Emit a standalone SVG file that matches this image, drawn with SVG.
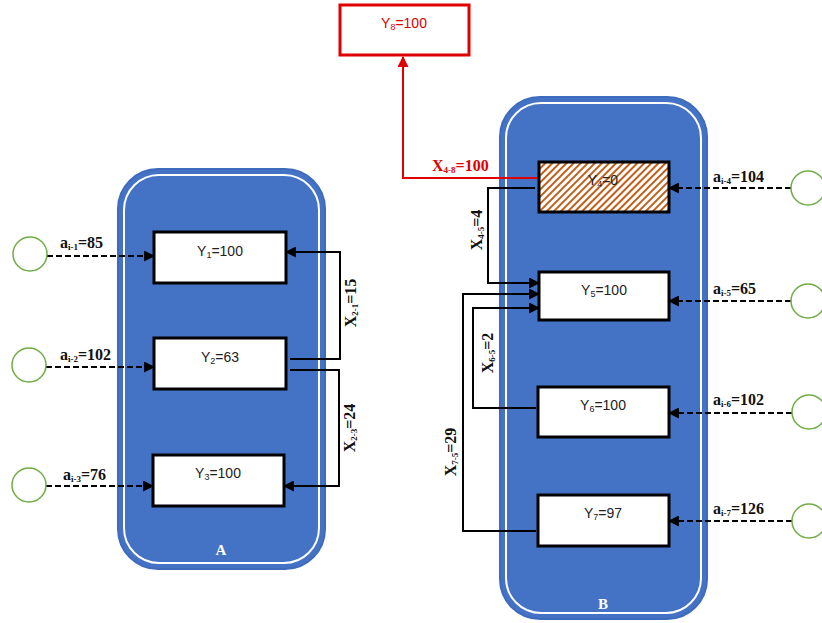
<svg xmlns="http://www.w3.org/2000/svg" width="822" height="623" viewBox="0 0 822 623">
<defs>
<style>
.cont{fill:#4472c4;stroke:#3f6bbd;stroke-width:2}
.inner{fill:none;stroke:#ffffff;stroke-width:2}
.box{fill:#ffffff;stroke:#000000;stroke-width:3}
.bt{font-family:"Liberation Sans","DejaVu Sans",sans-serif;font-size:14px;fill:#222;text-anchor:middle}
.lbl{font-family:"Liberation Serif","DejaVu Serif",serif;font-size:16px;font-weight:bold;fill:#111}
.sub{font-size:9px}
.src{fill:#ffffff;stroke:#70ad47;stroke-width:1.5}
.dash{fill:none;stroke:#000;stroke-width:2;stroke-dasharray:6,3}
.flow{fill:none;stroke:#000;stroke-width:2}
.red{fill:none;stroke:#e00000;stroke-width:2}
.ct{font-family:"Liberation Serif","DejaVu Serif",serif;font-size:15px;font-weight:bold;fill:#ffffff;text-anchor:middle}
</style>
<marker id="ah" viewBox="0 0 10 10" refX="9" refY="5" markerWidth="5.5" markerHeight="5.5" orient="auto" markerUnits="strokeWidth">
<path d="M0,0 L10,5 L0,10 z" fill="#000"/>
</marker>
<marker id="ahr" viewBox="0 0 10 10" refX="9" refY="5" markerWidth="5.5" markerHeight="5.5" orient="auto" markerUnits="strokeWidth">
<path d="M0,0 L10,5 L0,10 z" fill="#e00000"/>
</marker>
<pattern id="hatch" patternUnits="userSpaceOnUse" width="5" height="5" patternTransform="rotate(45)">
<rect width="5" height="5" fill="#ffffff"/>
<rect width="2" height="5" fill="#c0601a"/>
</pattern>
</defs>

<g id="containerA">
<rect class="cont" x="118" y="169" width="207" height="400" rx="40"/>
<rect class="inner" x="124" y="175" width="195" height="388" rx="35"/>
<text class="ct" x="221" y="555">A</text>
</g>
<g id="containerB">
<rect class="cont" x="500" y="97" width="207" height="522" rx="40"/>
<rect class="inner" x="506" y="103" width="195" height="510" rx="35"/>
<text class="ct" x="603" y="609">B</text>
</g>

<g id="connectors">
<path class="dash" d="M47,256 H154" marker-end="url(#ah)"/>
<path class="dash" d="M46,367 H154" marker-end="url(#ah)"/>
<path class="dash" d="M46,486 H153" marker-end="url(#ah)"/>
<path class="flow" d="M290,359 H340 V252 H286" marker-end="url(#ah)"/>
<path class="flow" d="M290,370 H339 V486 H284" marker-end="url(#ah)"/>
<path class="dash" d="M791,188 H669" marker-end="url(#ah)"/>
<path class="dash" d="M791,301 H669" marker-end="url(#ah)"/>
<path class="dash" d="M792,413 H669" marker-end="url(#ah)"/>
<path class="dash" d="M792,521 H669" marker-end="url(#ah)"/>
<path class="flow" d="M535,188 H488 V283 H539" marker-end="url(#ah)"/>
<path class="flow" d="M536,531 H463 V294 H539" marker-end="url(#ah)"/>
<path class="flow" d="M536,408 H473 V308 H539" marker-end="url(#ah)"/>
<path class="red" d="M538,178 H403 V57" marker-end="url(#ahr)"/>
</g>

<g id="labels">
<text class="lbl" x="60" y="248">a<tspan class="sub" dy="2">i-1</tspan><tspan dy="-2">=85</tspan></text>
<text class="lbl" x="60" y="360">a<tspan class="sub" dy="2">i-2</tspan><tspan dy="-2">=102</tspan></text>
<text class="lbl" x="63" y="480">a<tspan class="sub" dy="2">i-3</tspan><tspan dy="-2">=76</tspan></text>
<text class="lbl" transform="translate(356,303) rotate(-90)" text-anchor="middle">X<tspan class="sub" dy="2">2-1</tspan><tspan dy="-2">=15</tspan></text>
<text class="lbl" transform="translate(355,428) rotate(-90)" text-anchor="middle">X<tspan class="sub" dy="2">2-3</tspan><tspan dy="-2">=24</tspan></text>
<text class="lbl" x="713" y="182">a<tspan class="sub" dy="2">i-4</tspan><tspan dy="-2">=104</tspan></text>
<text class="lbl" x="713" y="294">a<tspan class="sub" dy="2">i-5</tspan><tspan dy="-2">=65</tspan></text>
<text class="lbl" x="713" y="405">a<tspan class="sub" dy="2">i-6</tspan><tspan dy="-2">=102</tspan></text>
<text class="lbl" x="713" y="514">a<tspan class="sub" dy="2">i-7</tspan><tspan dy="-2">=126</tspan></text>
<text class="lbl" transform="translate(482,230) rotate(-90)" text-anchor="middle">X<tspan class="sub" dy="2">4-5</tspan><tspan dy="-2">=4</tspan></text>
<text class="lbl" transform="translate(493,353) rotate(-90)" text-anchor="middle">X<tspan class="sub" dy="2">6-5</tspan><tspan dy="-2">=2</tspan></text>
<text class="lbl" transform="translate(456,452) rotate(-90)" text-anchor="middle">X<tspan class="sub" dy="2">7-5</tspan><tspan dy="-2">=29</tspan></text>
<text class="lbl" x="432" y="171" style="fill:#e00000">X<tspan class="sub" dy="2">4-8</tspan><tspan dy="-2">=100</tspan></text>
</g>

<g id="src1"><circle class="src" cx="30" cy="254" r="17"/></g>
<g id="src2"><circle class="src" cx="29" cy="365" r="17"/></g>
<g id="src3"><circle class="src" cx="29" cy="485" r="17"/></g>
<g id="src4"><circle class="src" cx="808" cy="188" r="17"/></g>
<g id="src5"><circle class="src" cx="808" cy="301" r="17"/></g>
<g id="src6"><circle class="src" cx="809" cy="412" r="17"/></g>
<g id="src7"><circle class="src" cx="809" cy="521" r="17"/></g>

<g id="Y1"><rect class="box" x="154" y="232" width="132" height="51"/><text class="bt" x="220" y="256">Y<tspan class="sub" dy="2">1</tspan><tspan dy="-2">=100</tspan></text></g>
<g id="Y2"><rect class="box" x="154" y="338" width="132" height="51"/><text class="bt" x="220" y="362">Y<tspan class="sub" dy="2">2</tspan><tspan dy="-2">=63</tspan></text></g>
<g id="Y3"><rect class="box" x="153" y="455" width="131" height="51"/><text class="bt" x="218" y="478">Y<tspan class="sub" dy="2">3</tspan><tspan dy="-2">=100</tspan></text></g>
<g id="Y4"><rect class="box" x="539" y="162" width="130" height="50" style="fill:url(#hatch)"/><text class="bt" x="603" y="185">Y<tspan class="sub" dy="2">4</tspan><tspan dy="-2">=0</tspan></text></g>
<g id="Y5"><rect class="box" x="539" y="272" width="130" height="48"/><text class="bt" x="604" y="295">Y<tspan class="sub" dy="2">5</tspan><tspan dy="-2">=100</tspan></text></g>
<g id="Y6"><rect class="box" x="538" y="387" width="131" height="50"/><text class="bt" x="603" y="410">Y<tspan class="sub" dy="2">6</tspan><tspan dy="-2">=100</tspan></text></g>
<g id="Y7"><rect class="box" x="538" y="495" width="131" height="51"/><text class="bt" x="603" y="518">Y<tspan class="sub" dy="2">7</tspan><tspan dy="-2">=97</tspan></text></g>
<g id="Y8"><rect x="340" y="5" width="129" height="50" fill="#ffffff" stroke="#e00000" stroke-width="3"/><text class="bt" x="404" y="28" style="fill:#e00000">Y<tspan class="sub" dy="2">8</tspan><tspan dy="-2">=100</tspan></text></g>
</svg>
